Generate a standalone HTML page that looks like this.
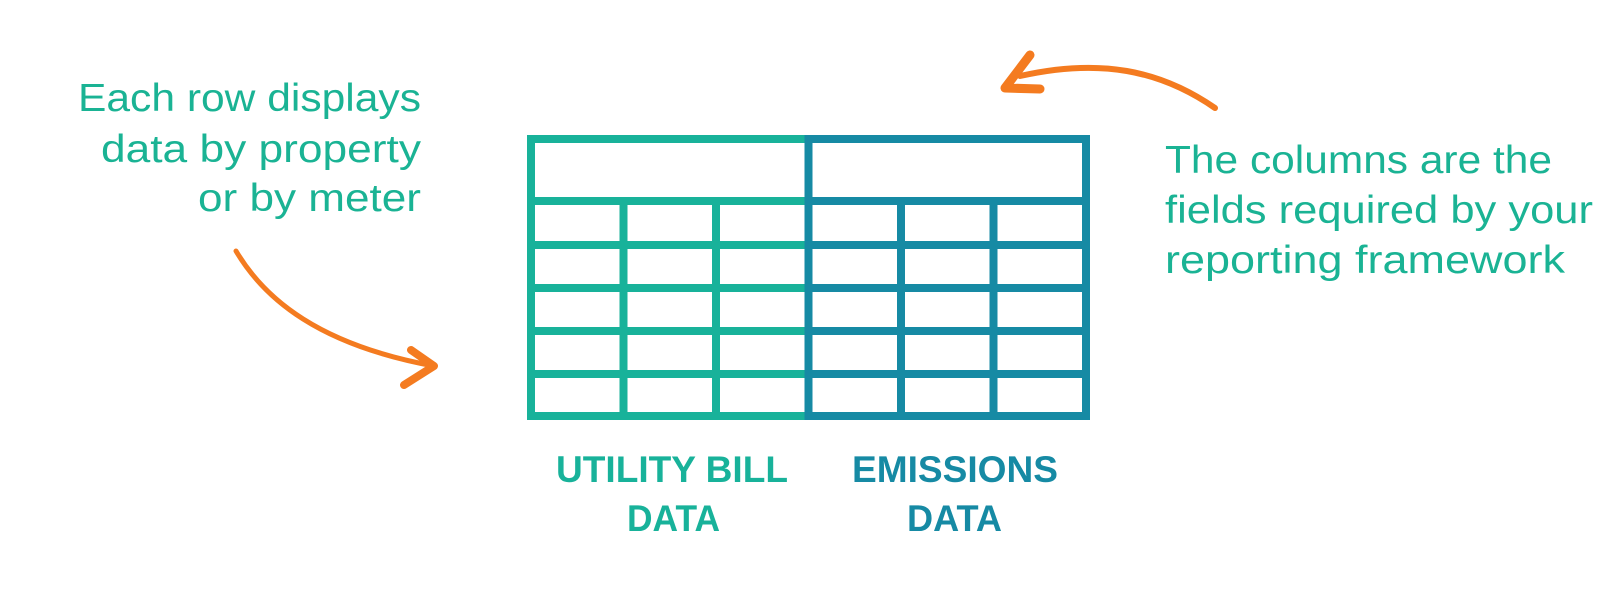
<!DOCTYPE html>
<html><head><meta charset="utf-8"><style>
html,body{margin:0;padding:0;background:#fff;}
svg{display:block;}
</style></head><body>
<svg width="1617" height="597" viewBox="0 0 1617 597" xmlns="http://www.w3.org/2000/svg">
<g font-family="Liberation Sans, sans-serif" fill="#1ab394" font-size="39">
<text x="421" y="111" text-anchor="end" textLength="343" lengthAdjust="spacingAndGlyphs">Each row displays</text>
<text x="421" y="162" text-anchor="end" textLength="320" lengthAdjust="spacingAndGlyphs">data by property</text>
<text x="421" y="211" text-anchor="end" textLength="223" lengthAdjust="spacingAndGlyphs">or by meter</text>
<text x="1165" y="173" textLength="387" lengthAdjust="spacingAndGlyphs">The columns are the</text>
<text x="1165" y="223" textLength="428" lengthAdjust="spacingAndGlyphs">fields required by your</text>
<text x="1165" y="273" textLength="400" lengthAdjust="spacingAndGlyphs">reporting framework</text>
</g>
<g font-family="Liberation Sans, sans-serif" font-weight="bold" font-size="37">
<text x="556" y="482" fill="#18b29a" textLength="232" lengthAdjust="spacingAndGlyphs">UTILITY BILL</text>
<text x="627" y="531" fill="#18b29a" textLength="93" lengthAdjust="spacingAndGlyphs">DATA</text>
<text x="852" y="482" fill="#168aa4" textLength="206" lengthAdjust="spacingAndGlyphs">EMISSIONS</text>
<text x="907" y="531" fill="#168aa4" textLength="95" lengthAdjust="spacingAndGlyphs">DATA</text>
</g>
<g fill="none" stroke-width="8">
<g stroke="#18b29a">
<path d="M808.5 139 H531 V416 H808.5"/>
<path d="M531 201 H808.5 M531 245 H808.5 M531 288 H808.5 M531 331 H808.5 M531 374 H808.5"/>
<path d="M623.5 201 V416 M716 201 V416"/>
</g>
<g stroke="#168aa4">
<path d="M808.5 139 H1086 V416 H808.5 Z"/>
<path d="M808.5 201 H1086 M808.5 245 H1086 M808.5 288 H1086 M808.5 331 H1086 M808.5 374 H1086"/>
<path d="M901 201 V416 M993.5 201 V416"/>
</g>
</g>
<g fill="none" stroke="#f47b20" stroke-linecap="round" stroke-linejoin="round">
<path d="M236 251 C265 300 320 345 434 366" stroke-width="5"/>
<path d="M411 350 L434 366 L404 385" stroke-width="8"/>
<path d="M1215 108 C1160 70 1100 58 1020 76" stroke-width="6"/>
<path d="M1030 55 L1005 88 L1040 89" stroke-width="9"/>
</g>
</svg>
</body></html>
